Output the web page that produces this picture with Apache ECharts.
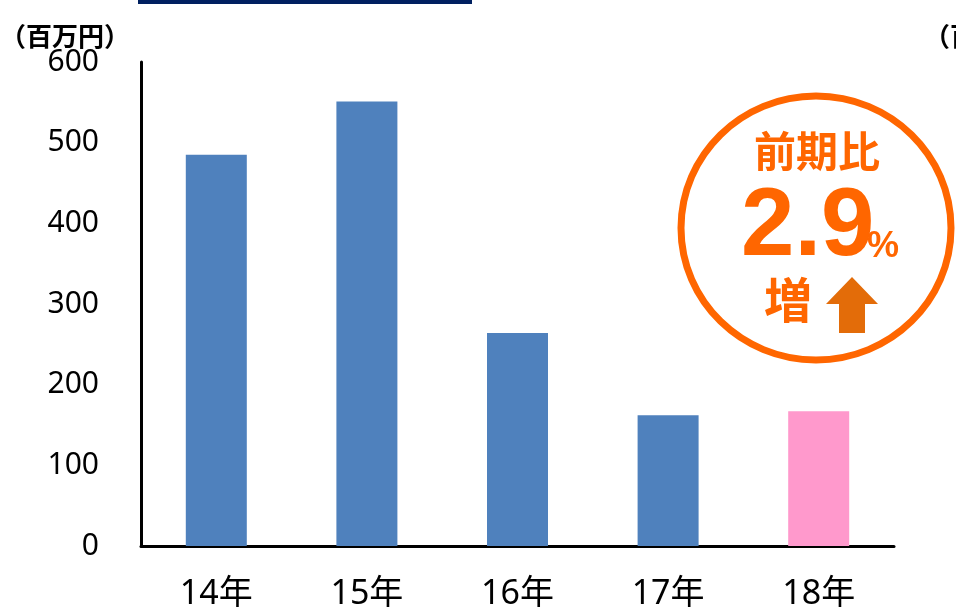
<!DOCTYPE html>
<html>
<head>
<meta charset="utf-8">
<script src="https://cdn.jsdelivr.net/npm/echarts@6/dist/echarts.min.js"></script>
<style>
  html, body { margin: 0; padding: 0; background: #ffffff; }
  #chart { width: 956px; height: 611px; }
</style>
</head>
<body>
<div id="chart"></div>
<script>
// Annual figures (unit: 百万円)
const years = ['14年', '15年', '16年', '17年', '18年'];
const values = [485, 551, 264, 162, 167];
const barColors = ['#4F81BD', '#4F81BD', '#4F81BD', '#4F81BD', '#FF99CC'];
const yTicks = [0, 100, 200, 300, 400, 500, 600];
const unitLabel = '（百万円）';
const changeTitle = '前期比';
const changeValue = '2.9';
const changeUnit = '%';
const changeWord = '増';

const FONT = '"Noto Sans", "Noto Sans CJK JP", sans-serif';
const ORANGE = '#FF6600';

const chart = echarts.init(document.getElementById('chart'), null, { renderer: 'canvas' });

chart.setOption({
  animation: false,
  backgroundColor: '#ffffff',
  grid: { left: 141, right: 62, top: 62, bottom: 65, containLabel: false },
  xAxis: {
    type: 'category',
    data: years,
    axisLine: { show: true, lineStyle: { color: '#000000', width: 3 } },
    axisTick: { show: false },
    axisLabel: { color: '#000000', fontSize: 34, fontFamily: FONT, margin: 31 }
  },
  yAxis: {
    type: 'value',
    min: yTicks[0],
    max: yTicks[yTicks.length - 1],
    interval: yTicks[1] - yTicks[0],
    axisLine: { show: true, lineStyle: { color: '#000000', width: 3 } },
    axisTick: { show: false },
    splitLine: { show: false },
    axisLabel: { color: '#000000', fontSize: 30, fontFamily: FONT, margin: 42 }
  },
  series: [{
    type: 'bar',
    barWidth: 61,
    data: values.map((v, i) => ({ value: v, itemStyle: { color: barColors[i] } }))
  }],
  graphic: [
    // navy header strip
    { type: 'rect', left: 138, top: 0, shape: { width: 334, height: 4 }, style: { fill: '#002060' } },
    // unit captions
    { type: 'text', left: 0, top: 23, style: { text: unitLabel, font: 'bold 26px "Noto Sans CJK JP", sans-serif', fill: '#000000' } },
    { type: 'text', left: 924, top: 23, style: { text: unitLabel, font: 'bold 26px "Noto Sans CJK JP", sans-serif', fill: '#000000' } },
    // year-on-year badge
    { type: 'ellipse', shape: { cx: 816, cy: 228, rx: 135, ry: 132 }, style: { fill: '#ffffff', stroke: ORANGE, lineWidth: 7 } },
    { type: 'text', x: 817, y: 151, style: { text: changeTitle, font: 'bold 42px "Noto Sans CJK JP", sans-serif', fill: ORANGE, align: 'center', verticalAlign: 'middle' } },
    { type: 'text', x: 741, y: 229, style: { text: changeValue, font: 'bold 96px "Liberation Sans", Arial, sans-serif', fill: ORANGE, align: 'left', verticalAlign: 'middle' } },
    { type: 'text', x: 867, y: 247, style: { text: changeUnit, font: 'bold 36px "Liberation Sans", Arial, sans-serif', fill: ORANGE, align: 'left', verticalAlign: 'middle' } },
    { type: 'text', x: 788, y: 300, style: { text: changeWord, font: 'bold 48px "Noto Sans CJK JP", sans-serif', fill: ORANGE, align: 'center', verticalAlign: 'middle' } },
    { type: 'polygon', shape: { points: [[852, 277], [878, 304], [865, 304], [865, 333], [839, 333], [839, 304], [826, 304]] }, style: { fill: '#E36C09' } }
  ]
});
</script>
</body>
</html>
